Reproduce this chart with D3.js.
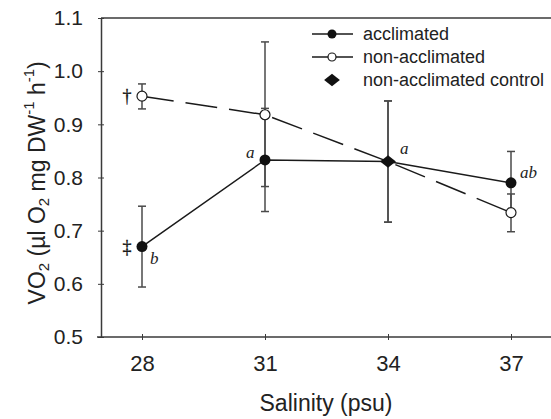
<!DOCTYPE html>
<html>
<head>
<meta charset="utf-8">
<script src="https://cdn.jsdelivr.net/npm/d3@7"></script>
<style>
  body { margin: 0; background: #fff; }
  svg { display: block; }
  text { font-family: "Liberation Sans", Arial, sans-serif; fill: #222; }
</style>
</head>
<body>
<svg id="chart" width="551" height="419"></svg>
<script>
const salinity = [28, 31, 34, 37];
const xTicks = [28, 31, 34, 37];
const yTicks = [0.5, 0.6, 0.7, 0.8, 0.9, 1.0, 1.1];

// acclimated (34 is the shared control point)
const acclimated = [0.670, 0.833, 0.830, 0.790];
const acclimatedLo = [0.594, 0.736, 0.716, 0.733];
const acclimatedHi = [0.746, 0.930, 0.944, 0.849];

// non-acclimated
const nonAcclimated = [0.953, 0.918, 0.830, 0.734];
const nonAcclimatedLo = [0.929, 0.783, 0.716, 0.698];
const nonAcclimatedHi = [0.976, 1.055, 0.944, 0.769];

// non-acclimated control
const controlX = [34];
const controlY = [0.830];

const letters = [
  { x: 28, y: 0.670, t: "b", dx: 8, dy: 17 },
  { x: 31, y: 0.833, t: "a", dx: -19, dy: -2 },
  { x: 34, y: 0.830, t: "a", dx: 12, dy: -8 },
  { x: 37, y: 0.790, t: "ab", dx: 9, dy: -5 }
];
const marks = [
  { x: 28, y: 0.953, t: "\u2020" },
  { x: 28, y: 0.670, t: "\u2021" }
];

const svg = d3.select("#chart");
const x = d3.scaleLinear().domain([27, 38]).range([101, 552]);
const y = d3.scaleLinear().domain([0.5, 1.1]).range([337, 18]);
const ink = "#1a1a1a";
const barInk = "#4a4a4a";
const axisInk = "#3a3a3a";

const diamondType = {
  draw(ctx, size) {
    const w = Math.sqrt(size) * 0.75, h = Math.sqrt(size) * 0.6;
    ctx.moveTo(0, -h); ctx.lineTo(w, 0); ctx.lineTo(0, h); ctx.lineTo(-w, 0); ctx.closePath();
  }
};
const diamond = d3.symbol().type(diamondType).size(110);

// frame: top line
svg.append("line").attr("x1", x(27)).attr("x2", 551).attr("y1", y(1.1)).attr("y2", y(1.1))
  .attr("stroke", axisInk).attr("stroke-width", 1.5);

// y axis
const yAxis = d3.axisLeft(y).tickValues(yTicks).tickFormat(d3.format(".1f")).tickSizeInner(3).tickSizeOuter(0).tickPadding(15);
const gy = svg.append("g").attr("transform", `translate(${x(27)},0)`).call(yAxis);
gy.select(".domain").attr("stroke", axisInk).attr("stroke-width", 1.5);
gy.selectAll(".tick line").attr("stroke", axisInk).attr("x2", 3).attr("x1", -3);
gy.selectAll(".tick text").style("font-size", "21px").attr("fill", ink);

// x axis
const xAxis = d3.axisBottom(x).tickValues(xTicks).tickFormat(d3.format("d")).tickSizeInner(3).tickSizeOuter(0).tickPadding(15);
const gx = svg.append("g").attr("transform", `translate(0,${y(0.5)})`).call(xAxis);
gx.select(".domain").attr("stroke", axisInk).attr("stroke-width", 1.5).attr("d", `M${x(27)-4},0H551`);
gx.selectAll(".tick line").attr("stroke", axisInk).attr("y1", -3).attr("y2", 3);
gx.selectAll(".tick text").style("font-size", "22px").attr("fill", ink);

// axis titles
svg.append("text").attr("x", 326).attr("y", 411).attr("text-anchor", "middle")
  .style("font-size", "23px").text("Salinity (psu)");

const yt = svg.append("text").attr("transform", `translate(37,${y(0.79)}) rotate(-90)`)
  .attr("text-anchor", "middle").attr("dominant-baseline", "central").style("font-size", "23px");
yt.append("tspan").text("VO");
yt.append("tspan").attr("dy", 6).style("font-size", "15px").text("2");
yt.append("tspan").attr("dy", -6).text(" (\u00b5l O");
yt.append("tspan").attr("dy", 6).style("font-size", "15px").text("2");
yt.append("tspan").attr("dy", -6).text(" mg DW");
yt.append("tspan").attr("dy", -9).style("font-size", "15px").text("-1");
yt.append("tspan").attr("dy", 9).text(" h");
yt.append("tspan").attr("dy", -9).style("font-size", "15px").text("-1");
yt.append("tspan").attr("dy", 9).text(")");

// error bars
function errorBars(lo, hi) {
  salinity.forEach((s, i) => {
    const g = svg.append("g").attr("stroke", barInk).attr("stroke-width", 1.5);
    g.append("line").attr("x1", x(s)).attr("x2", x(s)).attr("y1", y(lo[i])).attr("y2", y(hi[i]));
    [lo[i], hi[i]].forEach(v => g.append("line").attr("x1", x(s) - 4).attr("x2", x(s) + 4).attr("y1", y(v)).attr("y2", y(v)));
  });
}
errorBars(acclimatedLo, acclimatedHi);
errorBars(nonAcclimatedLo, nonAcclimatedHi);

const line = d3.line().x((d, i) => x(salinity[i])).y(d => y(d));
svg.append("path").datum(nonAcclimated).attr("d", line).attr("fill", "none")
  .attr("stroke", ink).attr("stroke-width", 1.5).attr("stroke-dasharray", "32,12");
svg.append("path").datum(acclimated).attr("d", line).attr("fill", "none")
  .attr("stroke", ink).attr("stroke-width", 1.5);

// markers
salinity.forEach((s, i) => {
  if (s === 34) return;
  svg.append("circle").attr("cx", x(s)).attr("cy", y(nonAcclimated[i])).attr("r", 5)
    .attr("fill", "#fff").attr("stroke", ink).attr("stroke-width", 1.2);
  svg.append("circle").attr("cx", x(s)).attr("cy", y(acclimated[i])).attr("r", 5.5)
    .attr("fill", "#111");
});
controlX.forEach((s, i) => {
  svg.append("path").attr("d", diamond).attr("transform", `translate(${x(s)},${y(controlY[i])})`)
    .attr("fill", "#111");
});

// letters
letters.forEach(l => {
  svg.append("text").attr("x", x(l.x) + l.dx).attr("y", y(l.y) + l.dy)
    .style("font-family", "'Liberation Serif', 'Times New Roman', serif").style("font-style", "italic")
    .style("font-size", "17px").text(l.t);
});
marks.forEach(m => {
  svg.append("text").attr("x", x(m.x) - 15).attr("y", y(m.y))
    .attr("text-anchor", "middle").attr("dominant-baseline", "central")
    .style("font-family", "'Liberation Serif', serif").style("fill", "#111")
    .style("stroke", "#111").style("stroke-width", "0.3")
    .style("font-size", "18px").text(m.t);
});

// legend
const legendItems = [
  { label: "acclimated", type: "filled" },
  { label: "non-acclimated", type: "open" },
  { label: "non-acclimated control", type: "diamond" }
];
const lg = svg.append("g").attr("transform", "translate(312,34)");
legendItems.forEach((d, i) => {
  const yy = i * 23;
  if (d.type !== "diamond") {
    lg.append("line").attr("x1", 0).attr("x2", 41).attr("y1", yy).attr("y2", yy)
      .attr("stroke", ink).attr("stroke-width", 1.3);
  }
  if (d.type === "filled") lg.append("circle").attr("cx", 20).attr("cy", yy).attr("r", 4.5).attr("fill", "#111");
  if (d.type === "open") lg.append("circle").attr("cx", 20).attr("cy", yy).attr("r", 4).attr("fill", "#fff").attr("stroke", ink).attr("stroke-width", 1.2);
  if (d.type === "diamond") lg.append("path").attr("d", diamond).attr("transform", `translate(20,${yy})`).attr("fill", "#111");
  lg.append("text").attr("x", 51).attr("y", yy).attr("dominant-baseline", "central")
    .style("font-size", "18px").text(d.label);
});
</script>
</body>
</html>
